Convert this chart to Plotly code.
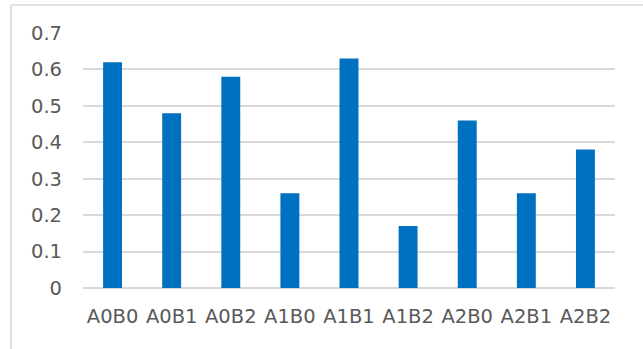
import plotly.graph_objects as go

categories = ["A0B0", "A0B1", "A0B2", "A1B0", "A1B1", "A1B2", "A2B0", "A2B1", "A2B2"]
values = [0.62, 0.48, 0.58, 0.26, 0.63, 0.17, 0.46, 0.26, 0.38]
y_ticks = [0, 0.1, 0.2, 0.3, 0.4, 0.5, 0.6, 0.7]
y_tick_text = ["0", "0.1", "0.2", "0.3", "0.4", "0.5", "0.6", "0.7"]

W, H = 643, 349
ML, MR, MT, MB = 83, 28, 33, 61
plot_w = W - ML - MR
plot_h = H - MT - MB

fig = go.Figure(
    go.Bar(
        x=categories,
        y=values,
        marker=dict(color="#0070C0", line=dict(width=0)),
    )
)

label_font = dict(family="DejaVu Sans", size=19.5, color="#595959")

fig.update_layout(
    width=W,
    height=H,
    margin=dict(l=ML, r=MR, t=MT, b=MB),
    paper_bgcolor="white",
    plot_bgcolor="white",
    bargap=0.68,
    showlegend=False,
    xaxis=dict(
        showgrid=False,
        showline=False,
        zeroline=False,
        tickfont=label_font,
        ticks="outside",
        ticklen=11,
        tickcolor="rgba(0,0,0,0)",
    ),
    yaxis=dict(
        range=[0, 0.7],
        tickvals=y_ticks,
        ticktext=y_tick_text,
        showgrid=True,
        gridcolor="#D9D9D9",
        gridwidth=1.5,
        zeroline=True,
        zerolinecolor="#D9D9D9",
        zerolinewidth=1.5,
        showline=False,
        tickfont=label_font,
        ticklabelstandoff=20,
    ),
)

# Chart-area frame: only its top and left edges fall inside the page
fx0 = (11 - ML) / plot_w
fy0 = 1 + (MT - 5) / plot_h
fig.add_shape(type="line", xref="paper", yref="paper",
              x0=fx0, x1=1 + MR / plot_w + 0.01, y0=fy0, y1=fy0,
              line=dict(color="#D9D9D9", width=1.5))
fig.add_shape(type="line", xref="paper", yref="paper",
              x0=fx0, x1=fx0, y0=fy0, y1=-MB / plot_h - 0.01,
              line=dict(color="#D9D9D9", width=1.5))

fig.write_html("out.html")
